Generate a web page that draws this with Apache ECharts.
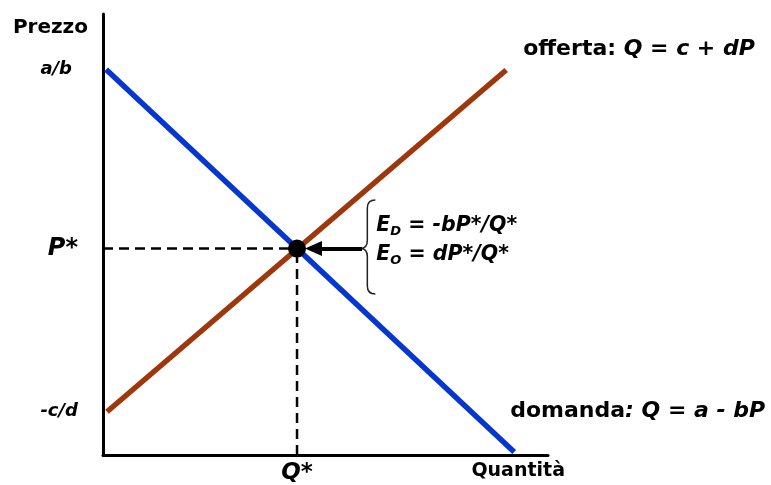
<!DOCTYPE html>
<html>
<head>
<meta charset="utf-8">
<script src="https://cdn.jsdelivr.net/npm/echarts@6/dist/echarts.min.js"></script>
<style>
html, body { margin: 0; padding: 0; background: #fff; }
#chart { width: 771px; height: 485px; }
</style>
</head>
<body>
<div id="chart"></div>
<script>
// curve end points (quantity, price) on a 0-100 scale
var demandLine = [[0.7, 87.4], [92.4, 0.7]];
var supplyLine = [[0.9, 9.8], [90.6, 87.3]];
var equilibrium = [43.6, 46.8];
var arrowFrom = [58.2, 46.8];
var arrowTo = [47.3, 46.8];
// brace: spine x, top, middle, bottom
var brace = [59.4, 57.8, 46.8, 36.5];

var yTicks = [87.5, 46.8, 10];
var yTickLabels = ['{a|a/b}', '{p|P*}', '{c|-c/d}'];
var xTicks = [43.6, 93.3];
var xTickLabels = ['{q|Q*}', '{n|Quantità}'];

var FONT = 'DejaVu Sans';
var chart = echarts.init(document.getElementById('chart'));

function txt(size, italic) {
    return { fontFamily: FONT, fontWeight: 'bold', fontSize: size, fontStyle: italic ? 'italic' : 'normal', color: '#000' };
}

var option = {
    animation: false,
    backgroundColor: '#fff',
    grid: { left: 103, right: 223, top: 14, bottom: 30 },
    xAxis: {
        type: 'value', min: 0, max: 100,
        splitLine: { show: false },
        axisTick: { show: false },
        axisLine: { show: true, lineStyle: { color: '#000', width: 3 } },
        axisLabel: {
            show: true,
            customValues: xTicks,
            margin: 7,
            formatter: function (v) { return xTickLabels[xTicks.indexOf(v)]; },
            rich: { q: txt(23, true), n: txt(19, false) }
        }
    },
    yAxis: {
        type: 'value', min: 0, max: 100,
        name: 'Prezzo',
        nameLocation: 'end',
        nameGap: -14,
        nameTextStyle: Object.assign(txt(20, false), { align: 'right', verticalAlign: 'middle', padding: [0, 15, 0, 0] }),
        splitLine: { show: false },
        axisTick: { show: false },
        axisLine: { show: true, lineStyle: { color: '#000', width: 3 } },
        axisLabel: {
            show: true,
            customValues: yTicks,
            margin: 25,
            formatter: function (v) { return yTickLabels[yTicks.indexOf(v)]; },
            rich: {
                a: Object.assign(txt(18, true), { padding: [0, 6, 0, 0] }),
                p: txt(24, true),
                c: txt(18, true)
            }
        }
    },
    series: [
        {
            type: 'line', data: [[0, equilibrium[1]], equilibrium], symbol: 'none',
            lineStyle: { color: '#000', width: 2.5, type: [10, 6] }
        },
        {
            type: 'line', data: [[equilibrium[0], 0], equilibrium], symbol: 'none',
            lineStyle: { color: '#000', width: 2.5, type: [10, 6] }
        },
        {
            type: 'line', data: demandLine, symbol: 'none',
            lineStyle: { color: '#0636d0', width: 5.5, cap: 'butt' },
            endLabel: {
                show: true, distance: 0, offset: [-4, -41],
                formatter: '{n|domanda}{i|: Q = a - bP}',
                rich: { n: txt(22, false), i: txt(22, true) }
            }
        },
        {
            type: 'line', data: supplyLine, symbol: 'none',
            lineStyle: { color: '#9e380c', width: 5.5, cap: 'butt' },
            endLabel: {
                show: true, distance: 0, offset: [17, -21],
                formatter: '{n|offerta: }{i|Q = c + dP}',
                rich: { n: txt(22, false), i: txt(22, true) }
            }
        },
        {
            type: 'scatter', data: [equilibrium], symbolSize: 18, z: 10,
            itemStyle: { color: '#000', opacity: 1 },
            markLine: {
                silent: true,
                symbol: ['none', 'triangle'],
                symbolSize: [15, 17],
                label: { show: false },
                lineStyle: { color: '#000', width: 4, type: 'solid' },
                data: [[{ coord: arrowFrom }, { coord: arrowTo }]]
            }
        },
        {
            type: 'custom',
            data: [brace],
            renderItem: function (params, api) {
                var top = api.coord([api.value(0), api.value(1)]);
                var mid = api.coord([api.value(0), api.value(2)]);
                var bot = api.coord([api.value(0), api.value(3)]);
                var xs = top[0], xr = xs + 8, xc = xs - 7, r = 8;
                var d = 'M' + xr + ' ' + top[1] +
                    ' Q' + xs + ' ' + top[1] + ' ' + xs + ' ' + (top[1] + r) +
                    ' L' + xs + ' ' + (mid[1] - r) +
                    ' Q' + xs + ' ' + mid[1] + ' ' + xc + ' ' + mid[1] +
                    ' Q' + xs + ' ' + mid[1] + ' ' + xs + ' ' + (mid[1] + r) +
                    ' L' + xs + ' ' + (bot[1] - r) +
                    ' Q' + xs + ' ' + bot[1] + ' ' + xr + ' ' + bot[1];
                return {
                    type: 'group',
                    children: [
                        { type: 'path', shape: { pathData: d }, style: { stroke: '#222', fill: null, lineWidth: 1.5 } },
                        {
                            type: 'text',
                            x: xr + 1, y: mid[1] - 8,
                            style: {
                                text: '{e|E}{s|D}{e| = -bP*/Q*}\n{e|E}{s|O}{e| = dP*/Q*}',
                                verticalAlign: 'middle', align: 'left',
                                rich: {
                                    e: Object.assign(txt(20.5, true), { lineHeight: 29 }),
                                    s: Object.assign(txt(13, true), { lineHeight: 29, padding: [12, 0, 0, 0] })
                                }
                            }
                        }
                    ]
                };
            }
        }
    ]
};
chart.setOption(option);
</script>
</body>
</html>
